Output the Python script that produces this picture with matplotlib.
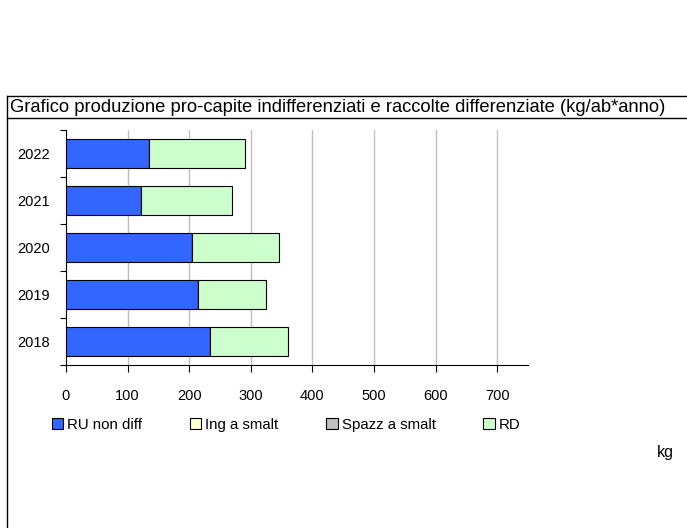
import matplotlib
matplotlib.use('Agg')
import matplotlib.pyplot as plt
from matplotlib.lines import Line2D
import numpy as np

plt.rcParams['font.family'] = ['Liberation Sans', 'DejaVu Sans']

# data (kg per inhabitant per year)
years = ['2018', '2019', '2020', '2021', '2022']
ru_non_diff = [234, 215, 205, 122, 135]
ing_a_smalt = [0, 0, 0, 0, 0]
spazz_a_smalt = [0, 0, 0, 0, 0]
rd = [127, 110, 141, 148, 156]

series_names = ['RU non diff', 'Ing a smalt', 'Spazz a smalt', 'RD']
series_colors = ['#3366FF', '#FFFFCC', '#C0C0C0', '#CCFFCC']
x_ticks = [0, 100, 200, 300, 400, 500, 600, 700]

fig = plt.figure(figsize=(6.87, 5.28), dpi=100)
ax = fig.add_axes([66 / 687, 1 - 365 / 528, (528 - 66) / 687, (365 - 130) / 528])

# stacked horizontal bars
positions = np.arange(len(years))
left = np.zeros(len(years))
for name, values, color in zip(series_names, [ru_non_diff, ing_a_smalt, spazz_a_smalt, rd], series_colors):
    ax.barh(positions, values, left=left, height=0.6, color=color,
            edgecolor='black', linewidth=0.8, label=name, zorder=3)
    left = left + np.array(values)

# axes styling
ax.set_xlim(0, 750)
ax.set_ylim(-0.5, len(years) - 0.5)
ax.set_xticks(x_ticks)
ax.set_xticklabels([str(t) for t in x_ticks])
ax.set_yticks(positions)
ax.set_yticklabels(years)
ax.set_yticks(np.arange(-0.5, len(years)), minor=True)
ax.tick_params(axis='y', which='major', length=0, pad=11.5, labelsize=10.5)
ax.tick_params(axis='y', which='minor', length=4.5, width=0.8, direction='out')
ax.tick_params(axis='x', length=5, width=0.8, pad=12, labelsize=10.5)

for v in x_ticks[1:]:
    ax.axvline(v, color='#C0C0C0', linewidth=1, zorder=1)

for side in ['top', 'right']:
    ax.spines[side].set_visible(False)
for side in ['left', 'bottom']:
    ax.spines[side].set_linewidth(0.8)

# legend below the plot
fig.legend(loc='center left', bbox_to_anchor=(52 / 687, 1 - 425 / 528), ncol=4,
           frameon=False, borderpad=0, borderaxespad=0, fontsize=10.8,
           handlelength=0.75, handleheight=0.75, handletextpad=0.28,
           columnspacing=3.17)

# header row with title, and outer frame
fig.text(10 / 687, 1 - 107 / 528,
         'Grafico produzione pro-capite indifferenziati e raccolte differenziate (kg/ab*anno)',
         fontsize=13.2, va='center', ha='left')
fig.add_artist(Line2D([7 / 687, 1], [1 - 96 / 528, 1 - 96 / 528], color='black', linewidth=1))
fig.add_artist(Line2D([7 / 687, 1], [1 - 118 / 528, 1 - 118 / 528], color='black', linewidth=1))
fig.add_artist(Line2D([7 / 687, 7 / 687], [0, 1 - 96 / 528], color='black', linewidth=1))

fig.text(657 / 687, 1 - 452 / 528, 'kg', fontsize=11.5, va='center', ha='left')

fig.savefig('out.png', dpi=100)
